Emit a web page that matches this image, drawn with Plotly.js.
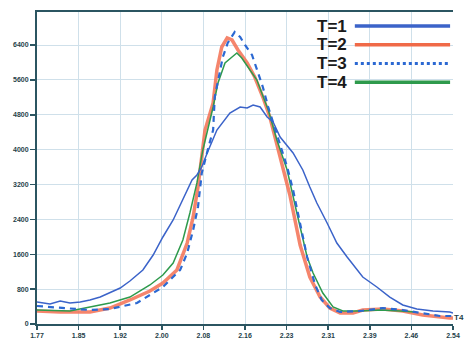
<!DOCTYPE html>
<html><head><meta charset="utf-8">
<script src="https://cdn.plot.ly/plotly-3.0.1.min.js"></script>
<style>html,body{margin:0;padding:0;background:#fff;}#chart{width:465px;height:340px;}</style>
</head><body><div id="chart"></div>
<script>
// Series T=1 (broad blue)
const t1X = [1.770,1.794,1.813,1.831,1.850,1.868,1.887,1.905,1.924,1.942,1.966,1.985,2.003,2.022,2.040,2.057,2.066,2.075,2.085,2.103,2.127,2.146,2.159,2.170,2.183,2.196,2.207,2.220,2.244,2.262,2.275,2.288,2.307,2.325,2.344,2.373,2.399,2.423,2.447,2.473,2.503,2.534,2.540];
const t1Y = [505,459,528,482,505,551,619,711,826,986,1239,1583,1996,2386,2845,3303,3418,3602,3923,4450,4840,4978,4955,5024,4978,4749,4634,4290,3923,3533,3143,2776,2317,1858,1537,1078,849,619,436,344,298,275,252];
// Series T=2 (orange)
const t2X = [1.770,1.813,1.868,1.905,1.942,1.979,2.003,2.029,2.048,2.059,2.068,2.075,2.081,2.096,2.103,2.112,2.122,2.131,2.142,2.159,2.173,2.188,2.201,2.220,2.238,2.257,2.275,2.294,2.312,2.331,2.355,2.373,2.410,2.447,2.484,2.534,2.540];
const t2Y = [298,275,275,367,551,757,941,1239,1858,2455,3143,3831,4450,5070,5827,6354,6561,6515,6286,5987,5666,5207,4749,3831,2959,1812,1078,619,367,252,252,321,344,298,206,138,138];
// Series T=3 (blue dotted)
const t3X = [1.770,1.813,1.868,1.905,1.955,2.003,2.035,2.048,2.059,2.068,2.075,2.086,2.096,2.099,2.114,2.123,2.136,2.146,2.155,2.168,2.177,2.188,2.198,2.207,2.233,2.244,2.257,2.270,2.285,2.297,2.312,2.331,2.368,2.410,2.447,2.484,2.516,2.540];
const t3Y = [413,367,321,344,482,849,1239,1629,2156,2684,3464,3992,4450,5207,6125,6446,6698,6584,6400,6171,5827,5437,4978,4611,3602,3074,2317,1537,895,551,367,275,298,367,321,252,184,184];
// Series T=4 (green)
const t4X = [1.770,1.831,1.905,1.942,1.979,2.003,2.022,2.040,2.053,2.066,2.077,2.086,2.096,2.105,2.118,2.131,2.140,2.149,2.164,2.177,2.186,2.198,2.214,2.233,2.251,2.270,2.281,2.299,2.318,2.336,2.368,2.405,2.442,2.470];
const t4Y = [321,298,482,619,895,1124,1399,1927,2546,3235,3992,4450,4978,5529,5987,6125,6217,6102,5827,5597,5299,4909,4221,3533,2546,1537,1170,711,390,298,298,321,298,275];

const seriesNames = ['T=1','T=2','T=3','T=4'];
const xTickVals = [1.77,1.847,1.924,2.001,2.078,2.155,2.232,2.309,2.386,2.463,2.54];
const xTickText = ['1.77','1.85','1.92','2.00','2.08','2.16','2.23','2.31','2.39','2.46','2.54'];
const yTickVals = [0,800,1600,2400,3200,4000,4800,5600,6400];
const yTickText = ['0','800','1600','2400','3200','4000','4800','5600','6400'];

const colors = ['#3b63c9','rgba(243,112,82,0.85)','#2b68d2','#2e9a4c'];
const widths = [1.5,3.5,2.2,1.5];

const traces = [
  {x:t2X,y:t2Y,name:seriesNames[1],mode:'lines',line:{color:colors[1],width:widths[1]},showlegend:false},
  {x:t4X,y:t4Y,name:seriesNames[3],mode:'lines',line:{color:colors[3],width:widths[3]},showlegend:false},
  {x:t1X,y:t1Y,name:seriesNames[0],mode:'lines',line:{color:colors[0],width:widths[0]},showlegend:false},
  {x:t3X,y:t3Y,name:seriesNames[2],mode:'lines',line:{color:colors[2],width:widths[2],dash:'6px,5px'},showlegend:false}
];

const legY = [0.955,0.895,0.835,0.775];
const shapes = [];
const annotations = [];
seriesNames.forEach((n,i)=>{
  shapes.push({type:'line',xref:'paper',yref:'paper',x0:0.764,x1:0.993,y0:legY[i],y1:legY[i],
    line:{color:i===1?'#f06a48':colors[i],width:i===2?3:3.5,dash:i===2?'dot':'solid'}});
  annotations.push({xref:'paper',yref:'paper',x:0.748,y:legY[i],xanchor:'right',yanchor:'middle',borderpad:0,
    text:n,showarrow:false,font:{family:'Liberation Sans, Arial',size:17,color:'#1a1a1a',weight:'bold'}});
});
annotations.push({xref:'paper',yref:'paper',x:1.0,y:0.02,xanchor:'left',yanchor:'middle',text:'T4',showarrow:false,borderpad:0,
  font:{family:'Liberation Sans, Arial',size:8,color:'#1f3f4a',weight:'bold'}});

const axisFont = {family:'Liberation Sans, Arial',size:7,color:'#1f3f4a',weight:'bold'};
const layout = {
  width:465,height:340,
  margin:{l:37,r:12,t:12,b:16,pad:0},
  paper_bgcolor:'#ffffff',plot_bgcolor:'#ffffff',
  showlegend:false,
  xaxis:{range:[1.77,2.54],tickvals:xTickVals,ticktext:xTickText,tickfont:axisFont,
    showgrid:true,gridcolor:'#cfe0ea',gridwidth:1,zeroline:false,
    showline:true,linecolor:'#2b5561',linewidth:2,mirror:true,
    ticks:'outside',ticklen:4,tickcolor:'#2b5561',tickwidth:1.5},
  yaxis:{range:[0,7157],tickvals:yTickVals,ticktext:yTickText,tickfont:axisFont,
    showgrid:true,gridcolor:'#cfe0ea',gridwidth:1,zeroline:false,
    showline:true,linecolor:'#2b5561',linewidth:2,
    ticks:'outside',ticklen:5,tickcolor:'#2b5561',tickwidth:1.5},
  shapes:shapes,annotations:annotations
};
Plotly.newPlot('chart',traces,layout,{staticPlot:true,displayModeBar:false});
</script></body></html>
